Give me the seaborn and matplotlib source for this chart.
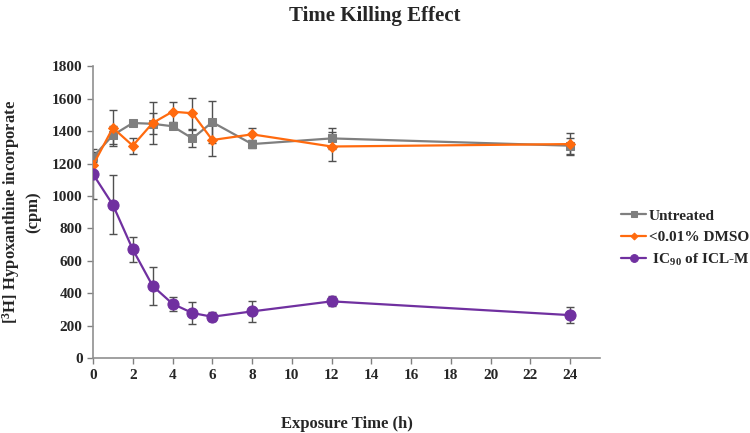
import numpy as np
import pandas as pd
import matplotlib
matplotlib.use("Agg")
import matplotlib.pyplot as plt
import seaborn as sns

# Data
time_h = [0, 1, 2, 3, 4, 5, 6, 8, 12, 24]
untreated = [1240, 1375, 1450, 1445, 1430, 1355, 1455, 1320, 1355, 1310]
untreated_sd = [30, 55, 20, 65, 15, 50, 130, 25, 65, 50]
dmso = [1190, 1420, 1310, 1450, 1520, 1510, 1345, 1380, 1305, 1320]
dmso_sd = [40, 110, 50, 130, 62, 95, 100, 40, 90, 70]
iclm = [1135, 945, 670, 445, 335, 278, 255, 288, 350, 265]
iclm_sd = [155, 182, 78, 116, 44, 65, 28, 66, 30, 50]

groups = ["Untreated", "<0.01% DMSO", " IC$_{90}$ of ICL-M"]
colors = ["#7f7f7f", "#ff6a0e", "#7030a0"]
markers = ["s", "D", "o"]
sizes = [6, 5, 8]

sns.set_style("white")
plt.rcParams["font.family"] = ["Liberation Serif", "DejaVu Serif"]
plt.rcParams["font.weight"] = "bold"
plt.rcParams["mathtext.fontset"] = "custom"
plt.rcParams["mathtext.rm"] = "Liberation Serif:bold"
plt.rcParams["mathtext.it"] = "Liberation Serif:bold"
plt.rcParams["mathtext.bf"] = "Liberation Serif:bold"

rows = []
for g, vals, sds in zip(groups, [untreated, dmso, iclm], [untreated_sd, dmso_sd, iclm_sd]):
    for t, v, s in zip(time_h, vals, sds):
        rows.append({"time": t, "value": v, "sd": s, "group": g})
df = pd.DataFrame(rows)

fig = plt.figure(figsize=(7.5, 4.33), dpi=100)
ax = fig.add_axes([0.124, 0.173, 0.676, 0.674])

# error bars first, lines on top
for g in groups:
    sub = df[df["group"] == g]
    ax.errorbar(sub["time"], sub["value"], yerr=sub["sd"], fmt="none",
                ecolor="#505050", elinewidth=1, capsize=3, capthick=1, zorder=2)

for g, c, m, s in zip(groups, colors, markers, sizes):
    sub = df[df["group"] == g]
    sns.lineplot(data=sub, x="time", y="value", color=c, marker=m,
                 markersize=s, markeredgecolor=c, linewidth=1.6,
                 label=g, ax=ax, zorder=3)

ax.set_xlim(0, 25.5)
ax.set_ylim(0, 1800)
ax.set_xticks(np.arange(0, 25, 2))
ax.set_yticks(np.arange(0, 1801, 200))
ax.tick_params(axis="both", which="both", direction="out", length=4,
               width=1, color="#808080", labelsize=11, bottom=True, left=True)
for lab in ax.get_xticklabels() + ax.get_yticklabels():
    lab.set_fontweight("bold")

sns.despine(ax=ax)
for sp in ["left", "bottom"]:
    ax.spines[sp].set_color("#909090")
    ax.spines[sp].set_linewidth(1.2)

ax.set_xlabel("Exposure Time (h)", fontsize=12, fontweight="bold", labelpad=25)
ax.set_ylabel("[$^{3}$H] Hypoxanthine incorporate\n(cpm)", fontsize=12,
              fontweight="bold", labelpad=8)
fig.suptitle("Time Killing Effect", fontsize=15, fontweight="bold", y=0.985)

ax.legend(loc="center left", bbox_to_anchor=(1.03, 0.41), frameon=False,
          prop={"size": 11, "weight": "bold"}, handlelength=1.6,
          handletextpad=0.2, labelspacing=0.5, markerscale=0.7,
          borderaxespad=0.0)

fig.savefig("out.png", dpi=100)
